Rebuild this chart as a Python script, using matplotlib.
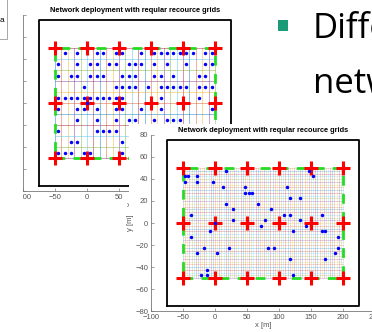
import numpy as np
import matplotlib.pyplot as plt
from matplotlib.patches import Rectangle

W, H = 372, 332

# base station sites (red crosses)
bs_x = [-50, 0, 50, 100, 150, 200]
bs_y = [-50, 0, 50]

# service area and plot frame [m]
area_x = [-50, 200]
area_y = [-50, 50]
frame_x = [-75, 225]
frame_y = [-75, 75]

# rear figure: 10 m resource grid, occupied cells given by column index per row
back_cell = 10
back_rows = [45, 35, 25, 15, 5, -5, -15, -25, -35, -45]
back_cols = [
    [1, 3, 6, 7, 9, 10, 13, 15, 16, 17, 18, 19, 20, 21, 23, 24],
    [0, 3, 5, 6, 8, 9, 11, 12, 13, 15, 17, 20, 23, 24],
    [0, 2, 3, 5, 6, 7, 10, 11, 12, 15, 16, 18, 22, 23],
    [4, 9, 10, 11, 12, 14, 16, 17, 18, 19, 20, 22, 23, 24],
    [0, 1, 2, 3, 4, 5, 6, 7, 8, 9, 10, 16, 22],
    [0, 3, 4, 6, 9, 10, 13, 16, 24],
    [3, 6, 9, 11, 12, 15, 17, 18, 19],
    [0, 6, 7, 8, 9],
    [2, 3, 10],
    [0, 1, 2, 4, 5, 10],
]

# front figure: users on a 5 m grid
front_x = [-47.5, -42.5, -27.5, 17.5, -47.5, -27.5, -2.5, 12.5, 47.5, 112.5,
           47.5, 52.5, 57.5, 117.5, 132.5, 17.5, 67.5, 27.5, 87.5, -37.5,
           107.5, 117.5, 167.5, 27.5, 77.5, 132.5, 72.5, 142.5, 147.5, 152.5,
           -7.5, 122.5, 167.5, 172.5, -37.5, 192.5, -17.5, 22.5, 82.5, 92.5,
           192.5, -27.5, 2.5, 187.5, 117.5, 172.5, -12.5, -22.5, -12.5, 122.5, 0]
front_y = [42.5, 42.5, 42.5, 47.5, 37.5, 37.5, 37.5, 32.5, 32.5, 32.5,
           27.5, 27.5, 27.5, 22.5, 22.5, 17.5, 17.5, 12.5, 12.5, 7.5,
           7.5, 7.5, 7.5, 2.5, 2.5, 2.5, -2.5, -2.5, 47.5, 42.5,
           -7.5, -7.5, -7.5, -7.5, -12.5, -12.5, -22.5, -22.5, -22.5, -22.5,
           -22.5, -27.5, -27.5, -27.5, -32.5, -32.5, -42.5, -47.5, -47.5, -47.5, 0]

x_ticks = [-100, -50, 0, 50, 100, 150, 200, 250]
y_ticks = [-80, -60, -40, -20, 0, 20, 40, 60, 80]
title = 'Network deployment with reqular recource grids'

mcols = ['#0072BD', '#D95319', '#EDB120', '#7E2F8E', '#77AC30', '#4DBEEE', '#A2142F']

plt.rcParams['font.family'] = ['Liberation Sans', 'DejaVu Sans']


def fig_box(left, top, width, height):
    return [left / W, 1 - (top + height) / H, width / W, height / H]


def draw_deployment(ax, gx, gy, lw, alpha, ux, uy):
    for i, x in enumerate(gx):
        ax.plot([x, x], area_y, color=mcols[i % 7], lw=lw, alpha=alpha, zorder=1)
    for j, y in enumerate(gy):
        ax.plot(area_x, [y, y], color=mcols[(j + 3) % 7], lw=lw, alpha=alpha, zorder=1)
    ax.plot([frame_x[0], frame_x[1], frame_x[1], frame_x[0], frame_x[0]],
            [frame_y[0], frame_y[0], frame_y[1], frame_y[1], frame_y[0]],
            color='black', lw=1.3, zorder=2)
    ax.plot([area_x[0], area_x[1], area_x[1], area_x[0], area_x[0]],
            [area_y[0], area_y[0], area_y[1], area_y[1], area_y[0]],
            color='#22dd22', lw=2, ls=(0, (3.5, 3)), zorder=3)
    bx, by = np.meshgrid(bs_x, bs_y)
    ax.plot(bx.ravel(), by.ravel(), '+', color='red', ms=10, mew=2.2, zorder=4)
    ax.plot(ux, uy, 'o', color='blue', ms=2.5, mew=0, zorder=5)

    ax.set_xlim(-100, 250)
    ax.set_ylim(-80, 80)
    ax.set_xticks(x_ticks)
    ax.set_yticks(y_ticks)
    ax.set_facecolor('none')
    for s in ['top', 'right']:
        ax.spines[s].set_visible(False)
    for s in ['left', 'bottom']:
        ax.spines[s].set_color('#777777')
        ax.spines[s].set_linewidth(0.6)
    ax.tick_params(direction='in', length=2, width=0.5, colors='#777777',
                   labelsize=5.5, labelcolor='#555555', pad=2)
    ax.set_title(title, fontsize=5.3, fontweight='bold', pad=2.5)
    ax.set_xlabel('x [m]', fontsize=5.5, color='#555555', labelpad=1)
    ax.set_ylabel('y [m]', fontsize=5.5, color='#555555', labelpad=1)


fig = plt.figure(figsize=(W / 100, H / 100), dpi=100)

# rear copy of the chart
ax_b = fig.add_axes(fig_box(23, 15, 224, 176), zorder=0)
bux, buy = [], []
for y, cols in zip(back_rows, back_cols):
    for c in cols:
        bux.append(area_x[0] + back_cell * (c + 0.5))
        buy.append(y)
bux.append(0)
buy.append(0)
draw_deployment(ax_b, np.arange(area_x[0], area_x[1] + 1, back_cell),
                np.arange(area_y[0], area_y[1] + 1, back_cell), 0.7, 0.45, bux, buy)

# left edge of the rear picture is cut off
fig.add_artist(Rectangle((0, 0), 22.5 / W, 1, transform=fig.transFigure,
                         facecolor='white', edgecolor='none', zorder=0.5))

# white sheet of the front picture
fig.add_artist(Rectangle((128.5 / W, 0), 1, 1 - 124 / H, transform=fig.transFigure,
                         facecolor='white', edgecolor='none', zorder=1))

ax_f = fig.add_axes(fig_box(151, 135, 224, 176), zorder=2)
draw_deployment(ax_f, np.linspace(area_x[0], area_x[1], 76),
                np.arange(area_y[0], area_y[1] + 0.1, 2.5), 0.5, 0.3, front_x, front_y)

# partial legend box in the top left corner
fig.add_artist(Rectangle((-10 / W, 1 - 39 / H), 17 / W, 50 / H, transform=fig.transFigure,
                         facecolor='white', edgecolor='#999999', lw=0.6, zorder=3))
fig.text(4 / W, 1 - 21 / H, 'a', fontsize=6, ha='right', va='center', zorder=4)

# slide bullet text
fig.add_artist(Rectangle((278 / W, 1 - 30.5 / H), 10 / W, 10.5 / H, transform=fig.transFigure,
                         facecolor='#1b9a78', edgecolor='none', zorder=3))
fig.text(313 / W, 1 - 38 / H, 'Different', fontsize=25, family='Open Sans',
         ha='left', va='baseline', zorder=3)
fig.text(313 / W, 1 - 93 / H, 'network', fontsize=25, family='Open Sans',
         ha='left', va='baseline', zorder=3)

fig.savefig('out.png', dpi=100)
